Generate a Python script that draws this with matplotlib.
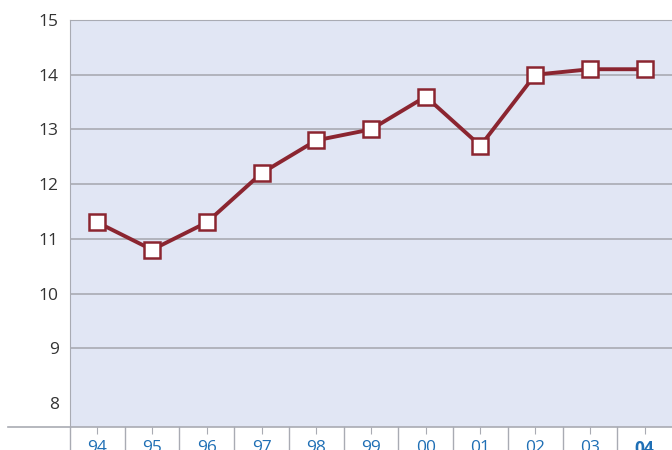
import matplotlib.pyplot as plt
from matplotlib.lines import Line2D

years = ["94", "95", "96", "97", "98", "99", "00", "01", "02", "03", "04"]
values = [11.3, 10.8, 11.3, 12.2, 12.8, 13.0, 13.6, 12.7, 14.0, 14.1, 14.1]
yticks = [8, 9, 10, 11, 12, 13, 14, 15]

plt.rcParams['font.family'] = ['Open Sans', 'DejaVu Sans']

W, H = 672, 450
fig = plt.figure(figsize=(W / 100, H / 100), dpi=100)
ax = fig.add_axes([70 / W, 1 - 427 / H, 1 - 70 / W, (427 - 20) / H])

grid_c = "#a9abb3"
ax.set_facecolor("#e1e6f4")
ax.set_ylim(7.56, 15)
ax.set_xlim(-0.5, len(years) - 0.5)
ax.set_yticks(yticks)
# no gridline at the lowest tick
for y in yticks[1:]:
    ax.axhline(y, color=grid_c, linewidth=1.2, zorder=1)

ax.plot(range(len(years)), values, color="#8b2530", linewidth=2.8,
        marker="s", markersize=11, markerfacecolor="white",
        markeredgecolor="#8b2530", markeredgewidth=1.8, zorder=3)

ax.spines["right"].set_visible(False)
ax.spines["top"].set_color(grid_c)
ax.spines["left"].set_color(grid_c)
ax.spines["bottom"].set_visible(False)

ax.tick_params(axis="y", length=0, pad=8, labelsize=12.5, labelcolor="#333333")
ax.set_xticks(range(len(years)))
ax.set_xticklabels(years)
ax.tick_params(axis="x", length=5, color=grid_c, pad=4, labelsize=12.5,
               labelcolor="#1f6fb5")
ax.get_xticklabels()[-1].set_fontweight("bold")

# cell separators below the axis
trans = ax.get_xaxis_transform()
for i in range(len(years)):
    ax.add_line(Line2D([i - 0.5, i - 0.5], [0, -30 / 407], transform=trans,
                       color=grid_c, linewidth=1, clip_on=False))

# bottom baseline across the figure
fig.add_artist(Line2D([8 / W, 1], [1 - 427 / H, 1 - 427 / H],
                      transform=fig.transFigure, color=grid_c, linewidth=1.2))

fig.savefig("out.png", dpi=100)
